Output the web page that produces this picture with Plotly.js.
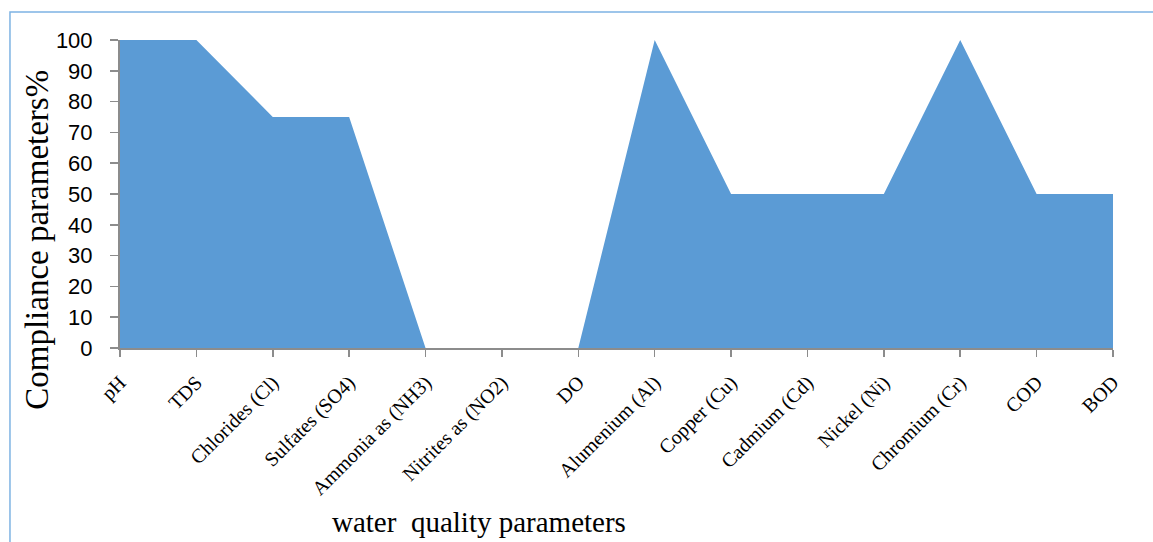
<!DOCTYPE html>
<html>
<head>
<meta charset="utf-8">
<script src="https://cdn.plot.ly/plotly-3.0.1.min.js"></script>
<style>
  html, body { margin: 0; padding: 0; background: #fff; }
  #chart { width: 1153px; height: 542px; }
</style>
</head>
<body>
<div id="chart"></div>
<script>
// Water quality parameters and their compliance percentages
const parameters = [
  "pH", "TDS", "Chlorides (Cl)", "Sulfates (SO4)", "Ammonia as (NH3)",
  "Nitrites as (NO2)", "DO", "Alumenium (Al)", "Copper (Cu)", "Cadmium (Cd)",
  "Nickel (Ni)", "Chromium (Cr)", "COD", "BOD"
];
const compliance = [100, 100, 75, 75, 0, 0, 0, 100, 50, 50, 50, 100, 50, 50];
const yTicks = [0, 10, 20, 30, 40, 50, 60, 70, 80, 90, 100];

const trace = {
  x: parameters,
  y: compliance,
  type: "scatter",
  mode: "lines",
  fill: "tozeroy",
  fillcolor: "#5B9BD5",
  line: { color: "#5B9BD5", width: 0 },
  hoverinfo: "x+y"
};

const layout = {
  width: 1153,
  height: 542,
  margin: { l: 120, r: 40, t: 40, b: 194 },
  paper_bgcolor: "#ffffff",
  plot_bgcolor: "#ffffff",
  showlegend: false,
  xaxis: {
    type: "category",
    range: [0, parameters.length - 1],
    showgrid: false,
    zeroline: false,
    showline: true,
    linecolor: "#8c8c8c",
    linewidth: 2,
    ticks: "outside",
    ticklen: 7,
    tickcolor: "#8c8c8c",
    tickwidth: 1.5,
    tickangle: -45,
    ticklabelstandoff: 6,
    tickfont: { family: "Liberation Serif, Times New Roman, serif", size: 20, color: "#000" },
    automargin: false
  },
  yaxis: {
    range: [0, 100],
    tickvals: yTicks,
    showgrid: false,
    zeroline: false,
    showline: true,
    linecolor: "#8c8c8c",
    linewidth: 2,
    ticks: "outside",
    ticklen: 8,
    tickcolor: "#8c8c8c",
    tickwidth: 1.5,
    ticklabelstandoff: 13,
    tickfont: { family: "Liberation Sans, Arial, sans-serif", size: 22, color: "#000" },
    automargin: false
  },
  annotations: [
    {
      text: "Compliance parameters%",
      xref: "paper", yref: "paper",
      x: -0.083, y: 0.35,
      xanchor: "center", yanchor: "middle",
      textangle: -90,
      showarrow: false,
      font: { family: "Liberation Serif, Times New Roman, serif", size: 33, color: "#000" }
    },
    {
      text: "water&nbsp; quality parameters",
      xref: "paper", yref: "paper",
      x: 0.362, y: -0.566,
      xanchor: "center", yanchor: "middle",
      showarrow: false,
      font: { family: "Liberation Serif, Times New Roman, serif", size: 29, color: "#000" }
    }
  ],
  shapes: [
    {
      type: "rect",
      xref: "paper", yref: "paper",
      x0: -0.1108, x1: 1.2,
      y0: -1.0, y1: 1.0909,
      line: { color: "#7EB3E3", width: 1.5 },
      fillcolor: "rgba(0,0,0,0)",
      layer: "below"
    }
  ]
};

Plotly.newPlot("chart", [trace], layout, { displayModeBar: false, staticPlot: true });
</script>
</body>
</html>
